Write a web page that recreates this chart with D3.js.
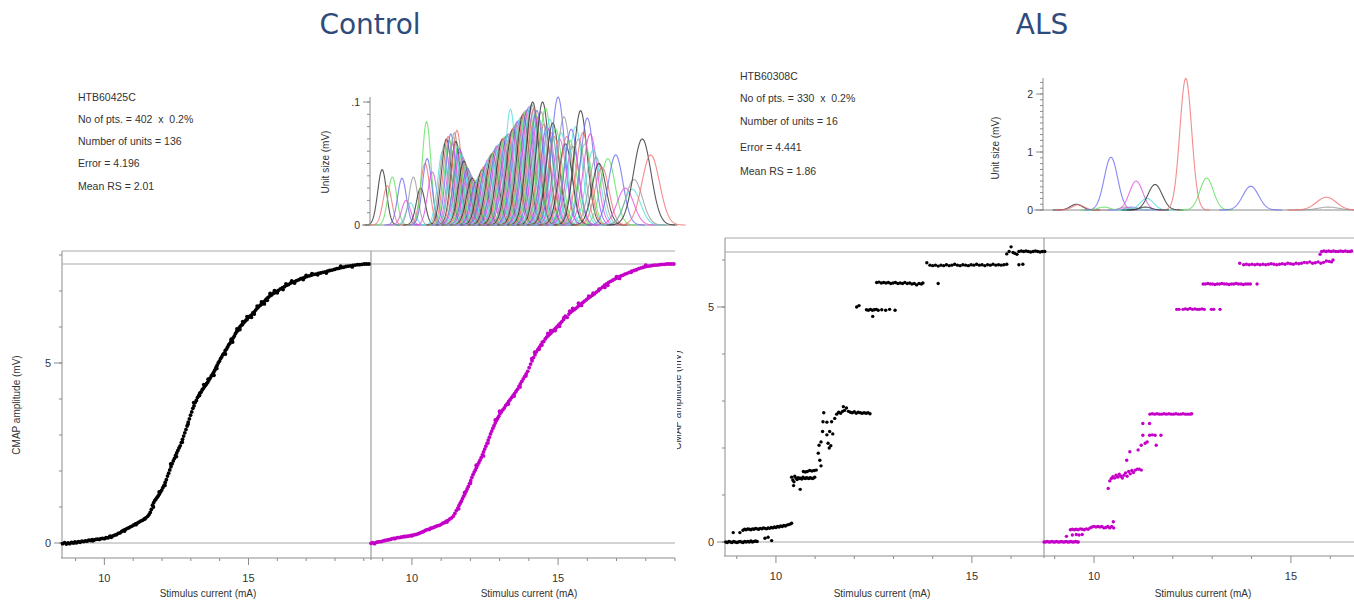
<!DOCTYPE html>
<html><head><meta charset="utf-8">
<script src="https://cdn.jsdelivr.net/npm/d3@7"></script>
<style>
body{margin:0;background:#fff}
svg{display:block}
text{font-family:"Liberation Sans",Arial,sans-serif;fill:#333}
</style>
</head><body><svg id="c" width="1354" height="606"></svg>
<script>
// ---------------- DATA ----------------
const titles = ["Control", "ALS"];
const ctrlInfo = ["HTB60425C", "No of pts. = 402  x  0.2%", "Number of units = 136", "Error = 4.196", "Mean RS = 2.01"];
const alsInfo = ["HTB60308C", "No of pts. = 330  x  0.2%", "Number of units = 16", "Error = 4.441", "Mean RS = 1.86"];
const xTickMajor = [10, 15];
const mainYTickMajor = [0, 5];
const ctrlUnitTicks = [0, 0.1];
const ctrlUnitTickLabels = ["0", ".1"];
const alsUnitTicks = [0, 1, 2];
const alsUnitTickLabels = ["0", "1", "2"];
const xLabel = "Stimulus current (mA)";
const yLabel = "CMAP amplitude (mV)";
const unitLabel = "Unit size (mV)";
const ctrlMax = 7.75;
const alsMax = 6.17;

// unit size curves: [threshold centre (mA), spread (mA), size (mV)]
const ctrlUnits = [
[8.98,0.15,0.045],[9.16,0.15,0.032],[9.33,0.15,0.039],[9.66,0.15,0.038],[9.80,0.15,0.020],[9.95,0.15,0.018],
[10.05,0.15,0.039],[10.30,0.15,0.030],[10.45,0.16,0.050],[10.50,0.15,0.084],[10.52,0.16,0.054],[10.70,0.16,0.043],
[11.05,0.17,0.060],[11.12,0.17,0.066],[11.18,0.17,0.070],[11.24,0.17,0.072],[11.28,0.17,0.069],[11.33,0.17,0.074],
[11.38,0.17,0.066],[11.42,0.17,0.071],[11.45,0.17,0.075],[11.50,0.17,0.068],[11.54,0.17,0.077],[11.58,0.17,0.064],
[11.62,0.19,0.062],[11.66,0.19,0.060],[11.70,0.19,0.057],[11.74,0.19,0.055],[11.78,0.19,0.052],[11.82,0.19,0.050],
[11.86,0.19,0.048],[11.90,0.19,0.046],[11.94,0.19,0.044],[11.98,0.19,0.042],[12.02,0.19,0.040],[12.06,0.19,0.038],
[12.10,0.19,0.037],[12.15,0.19,0.036],[12.20,0.19,0.035],[12.25,0.19,0.037],[12.30,0.19,0.040],[12.35,0.19,0.042],
[12.40,0.19,0.045],[12.45,0.19,0.047],[12.50,0.19,0.048],[12.55,0.21,0.050],[12.60,0.21,0.053],[12.65,0.21,0.055],
[12.70,0.21,0.057],[12.75,0.21,0.058],[12.80,0.21,0.060],[12.85,0.21,0.062],[12.90,0.21,0.064],[12.95,0.21,0.065],
[13.00,0.21,0.066],[13.05,0.21,0.068],[13.10,0.21,0.070],[13.15,0.21,0.071],[13.20,0.21,0.072],[13.25,0.21,0.073],
[13.30,0.21,0.074],[13.37,0.18,0.094],[13.40,0.22,0.076],[13.45,0.22,0.078],[13.50,0.22,0.080],[13.55,0.22,0.082],
[13.60,0.22,0.084],[13.65,0.22,0.085],[13.70,0.22,0.087],[13.75,0.22,0.088],[13.80,0.22,0.090],[13.85,0.22,0.092],
[13.90,0.22,0.093],[13.95,0.22,0.094],[14.00,0.22,0.096],[14.05,0.22,0.097],[14.10,0.22,0.098],[14.13,0.22,0.100],
[14.18,0.22,0.095],[14.22,0.22,0.090],[14.27,0.22,0.093],[14.32,0.22,0.088],[14.37,0.22,0.085],[14.42,0.22,0.092],
[14.47,0.22,0.100],[14.52,0.22,0.082],[14.57,0.22,0.095],[14.62,0.22,0.080],[14.67,0.22,0.078],[14.72,0.22,0.086],
[14.77,0.22,0.075],[14.82,0.22,0.083],[14.87,0.22,0.072],[14.92,0.22,0.078],[15.00,0.23,0.104],[15.05,0.23,0.070],
[15.10,0.23,0.075],[15.20,0.23,0.088],[15.25,0.23,0.066],[15.30,0.23,0.072],[15.40,0.23,0.069],[15.45,0.23,0.078],
[15.50,0.23,0.064],[15.60,0.23,0.080],[15.70,0.23,0.070],[15.77,0.23,0.093],[15.85,0.23,0.075],[15.92,0.23,0.066],
[16.00,0.23,0.087],[16.10,0.24,0.074],[16.20,0.24,0.061],[16.30,0.24,0.055],[16.40,0.24,0.050],[16.50,0.24,0.047],
[16.70,0.25,0.054],[16.97,0.25,0.057],[17.30,0.28,0.030],[17.54,0.28,0.029],[17.60,0.28,0.037],[17.88,0.30,0.070],
[18.17,0.30,0.057]
];
const alsUnits = [
[9.55,0.15,0.10],[9.60,0.15,0.09],[10.25,0.15,0.05],[10.43,0.17,0.91],[11.07,0.17,0.50],[11.34,0.17,0.20],
[10.80,0.15,0.05],[11.55,0.18,0.44],[12.33,0.15,2.27],[12.86,0.17,0.55],[13.98,0.20,0.41],[10.95,0.15,0.05],
[11.00,0.15,0.04],[15.95,0.25,0.05],[11.30,0.15,0.05],[15.90,0.25,0.22]
];

// stimulus-response points [stimulus (mA), CMAP (mV)]
const ctrlBlack = [
[8.55,-0.02],[8.62,0.01],[8.68,-0.03],[8.74,0.00],[8.80,-0.02],[8.86,0.02],[8.92,0.00],[8.98,0.03],[9.04,0.01],[9.10,0.04],
[9.16,0.02],[9.22,0.05],[9.28,0.04],[9.34,0.06],[9.40,0.05],[9.46,0.08],[9.52,0.07],[9.58,0.09],[9.64,0.08],[9.70,0.10],
[9.76,0.11],[9.82,0.10],[9.88,0.12],[9.94,0.13],[10.00,0.12],[10.06,0.15],[10.12,0.14],[10.18,0.17],[10.24,0.16],[10.30,0.20],
[10.36,0.22],[10.42,0.23],[10.48,0.27],[10.54,0.28],[10.60,0.32],[10.66,0.35],[10.72,0.37],[10.78,0.40],[10.84,0.42],[10.90,0.45],
[10.96,0.47],[11.02,0.50],[11.08,0.53],[11.14,0.55],[11.20,0.58],[11.26,0.61],[11.32,0.63],[11.38,0.66],[11.44,0.70],[11.50,0.74],
[11.55,0.79],[11.59,0.85],[11.63,0.93],[11.67,1.05],[11.71,1.12],[11.75,1.18],[11.79,1.22],[11.83,1.27],[11.87,1.31],[11.91,1.36],
[11.95,1.42],[11.99,1.47],[12.03,1.54],[12.07,1.60],[12.11,1.68],[12.15,1.76],[12.19,1.86],[12.23,1.94],[12.27,2.03],[12.31,2.12],
[12.35,2.20],[12.39,2.28],[12.43,2.35],[12.47,2.43],[12.51,2.50],[12.55,2.57],[12.59,2.64],[12.63,2.70],[12.67,2.79],[12.71,2.88],
[12.75,2.97],[12.79,3.06],[12.83,3.15],[12.87,3.25],[12.91,3.36],[12.95,3.45],[12.99,3.55],[13.03,3.64],[13.07,3.74],[13.11,3.81],
[13.15,3.90],[13.19,3.96],[13.23,4.04],[13.27,4.09],[13.31,4.16],[13.35,4.19],[13.39,4.25],[13.43,4.29],[13.47,4.34],[13.51,4.38],
[13.55,4.43],[13.59,4.47],[13.63,4.53],[13.67,4.58],[13.71,4.64],[13.75,4.68],[13.79,4.74],[13.83,4.80],[13.87,4.87],[13.91,4.93],
[13.95,5.00],[13.99,5.05],[14.03,5.12],[14.07,5.17],[14.11,5.23],[14.15,5.27],[14.19,5.34],[14.23,5.38],[14.27,5.44],[14.31,5.50],
[14.35,5.54],[14.39,5.60],[14.43,5.63],[14.47,5.70],[14.51,5.75],[14.55,5.82],[14.59,5.87],[14.63,5.91],[14.67,5.97],[14.71,6.01],
[14.75,6.05],[14.79,6.07],[14.83,6.12],[14.87,6.15],[14.91,6.19],[14.95,6.21],[15.00,6.27],[15.05,6.30],[15.10,6.33],[15.15,6.39],
[15.20,6.42],[15.25,6.47],[15.30,6.52],[15.35,6.56],[15.40,6.60],[15.45,6.63],[15.50,6.68],[15.55,6.71],[15.60,6.76],[15.65,6.80],
[15.70,6.83],[15.75,6.87],[15.80,6.89],[15.85,6.93],[15.90,6.95],[15.97,6.99],[16.04,7.02],[16.11,7.06],[16.18,7.09],[16.25,7.12],
[16.32,7.16],[16.39,7.18],[16.46,7.22],[16.53,7.24],[16.60,7.26],[16.67,7.29],[16.74,7.31],[16.81,7.34],[16.88,7.36],[16.95,7.38],
[17.02,7.40],[17.10,7.42],[17.18,7.44],[17.26,7.46],[17.34,7.47],[17.42,7.49],[17.50,7.50],[17.58,7.52],[17.66,7.53],[17.74,7.55],
[17.82,7.57],[17.90,7.58],[17.98,7.60],[18.06,7.62],[18.14,7.63],[18.22,7.65],[18.30,7.66],[18.38,7.68],[18.46,7.69],[18.54,7.70],
[18.62,7.71],[18.70,7.72],[18.78,7.73],[18.86,7.73],[18.94,7.74],[19.02,7.75],[19.10,7.75],[19.18,7.75],
[12.50,2.40],[12.90,3.30],[13.45,4.40],[13.80,4.66],[14.45,5.58],[14.60,5.95],[14.80,6.15],[15.10,6.27],[15.30,6.58],[15.55,6.64],
[15.75,6.93],[16.00,6.95],[16.30,7.20],[16.60,7.22],[17.00,7.43],[17.40,7.45],
[11.70,1.00],[11.90,1.42],[12.10,1.60],[12.30,2.20],[12.70,2.80],[13.10,3.90],[13.30,4.10],[13.60,4.55],[13.90,4.85],[14.20,5.25],
[14.40,5.66],[14.70,5.93],[14.95,6.29],[15.20,6.36],[15.45,6.70],[15.65,6.74],[15.90,7.01],[16.20,7.04],[16.50,7.28],[16.90,7.32],
[17.20,7.48],[17.70,7.50],[18.20,7.69],[18.60,7.67],[10.70,0.33],[11.10,0.51],[11.40,0.67],[10.20,0.19],[9.60,0.06],[9.00,0.01]
];
const ctrlMagenta = [
[8.60,-0.01],[8.66,0.01],[8.72,-0.02],[8.78,0.02],[8.84,0.03],[8.90,0.04],[8.96,0.04],[9.02,0.06],[9.08,0.07],[9.14,0.08],
[9.20,0.09],[9.26,0.10],[9.32,0.12],[9.38,0.13],[9.44,0.13],[9.50,0.15],[9.56,0.15],[9.62,0.16],[9.68,0.17],[9.74,0.18],
[9.80,0.18],[9.86,0.19],[9.92,0.20],[9.98,0.21],[10.04,0.22],[10.10,0.23],[10.16,0.24],[10.22,0.26],[10.28,0.28],[10.34,0.30],
[10.40,0.32],[10.46,0.35],[10.52,0.37],[10.58,0.38],[10.64,0.41],[10.70,0.42],[10.76,0.44],[10.82,0.46],[10.88,0.48],[10.94,0.49],
[11.00,0.52],[11.06,0.55],[11.12,0.57],[11.18,0.61],[11.24,0.63],[11.30,0.67],[11.36,0.70],[11.42,0.75],[11.47,0.82],[11.52,0.90],
[11.57,0.97],[11.61,1.04],[11.65,1.10],[11.69,1.16],[11.73,1.23],[11.77,1.30],[11.81,1.36],[11.85,1.43],[11.89,1.50],[11.93,1.57],
[11.97,1.65],[12.01,1.73],[12.05,1.82],[12.09,1.90],[12.13,1.97],[12.17,2.03],[12.21,2.10],[12.25,2.17],[12.29,2.23],[12.33,2.30],
[12.37,2.37],[12.41,2.45],[12.45,2.53],[12.49,2.61],[12.53,2.69],[12.57,2.77],[12.61,2.86],[12.65,2.94],[12.69,3.03],[12.73,3.11],
[12.77,3.19],[12.81,3.26],[12.85,3.33],[12.89,3.40],[12.93,3.46],[12.97,3.52],[13.01,3.59],[13.06,3.64],[13.11,3.70],[13.16,3.75],
[13.21,3.82],[13.26,3.87],[13.31,3.93],[13.36,3.98],[13.41,4.04],[13.46,4.09],[13.51,4.15],[13.56,4.21],[13.61,4.27],[13.66,4.35],
[13.71,4.42],[13.76,4.49],[13.81,4.56],[13.86,4.63],[13.91,4.70],[13.96,4.77],[14.01,4.87],[14.06,4.97],[14.11,5.06],[14.16,5.15],
[14.21,5.23],[14.26,5.31],[14.31,5.38],[14.36,5.44],[14.41,5.50],[14.46,5.58],[14.51,5.60],[14.56,5.67],[14.61,5.72],[14.66,5.76],
[14.71,5.80],[14.76,5.84],[14.81,5.88],[14.86,5.92],[14.91,5.96],[14.96,6.00],[15.01,6.05],[15.07,6.10],[15.13,6.15],[15.19,6.21],
[15.25,6.30],[15.31,6.27],[15.37,6.36],[15.43,6.41],[15.49,6.45],[15.55,6.48],[15.61,6.52],[15.67,6.56],[15.73,6.60],[15.79,6.64],
[15.85,6.68],[15.91,6.72],[15.97,6.76],[16.03,6.80],[16.10,6.84],[16.17,6.88],[16.24,6.92],[16.31,6.97],[16.38,7.01],[16.45,7.06],
[16.52,7.11],[16.59,7.16],[16.66,7.20],[16.73,7.24],[16.80,7.27],[16.87,7.30],[16.94,7.33],[17.01,7.36],[17.08,7.39],[17.15,7.42],
[17.22,7.44],[17.29,7.47],[17.36,7.49],[17.44,7.52],[17.52,7.55],[17.60,7.57],[17.68,7.59],[17.76,7.62],[17.84,7.64],[17.92,7.66],
[18.00,7.68],[18.08,7.69],[18.16,7.70],[18.24,7.71],[18.32,7.72],[18.40,7.72],[18.48,7.73],[18.56,7.74],[18.64,7.74],[18.72,7.75],
[18.80,7.75],[18.88,7.75],[18.96,7.75],
[12.45,2.42],[12.85,3.42],[13.30,3.86],[13.70,4.33],[14.20,5.30],[14.45,5.50],[14.75,5.90],[15.05,6.02],[15.40,6.44],[15.70,6.66],
[16.05,6.86],[16.40,7.05],[16.70,7.16],[17.10,7.35],
[11.60,0.95],[11.80,1.40],[12.00,1.66],[12.20,2.16],[12.60,2.78],[13.00,3.66],[13.50,4.08],[13.90,4.64],[14.10,5.12],[14.35,5.38],
[14.65,5.82],[14.90,5.90],[15.20,6.26],[15.50,6.52],[15.80,6.60],[16.20,6.94],[16.60,7.10],[17.00,7.40],[17.50,7.52],[18.00,7.72],
[10.60,0.38],[11.20,0.58],[10.00,0.20],[9.40,0.12]
];
const alsBlack = [
[8.72,0.00],[8.76,-0.01],[8.80,0.01],[8.84,0.00],[8.88,-0.01],[8.92,0.01],[8.96,0.00],[9.00,-0.01],[9.04,0.00],[9.08,0.01],
[9.12,0.00],[9.16,-0.01],[9.20,0.01],[9.24,0.00],[9.28,0.01],[9.32,0.00],[9.36,0.02],[9.40,0.00],[9.44,0.01],[9.48,0.02],[9.52,0.01],
[8.91,0.20],[9.08,0.20],[9.72,0.08],[9.89,0.03],[9.80,0.10],
[9.16,0.25],[9.20,0.27],[9.24,0.26],[9.28,0.28],[9.32,0.27],[9.36,0.26],[9.40,0.28],[9.44,0.27],[9.48,0.29],[9.52,0.28],
[9.56,0.27],[9.60,0.29],[9.64,0.28],[9.68,0.30],[9.72,0.29],[9.76,0.28],[9.80,0.30],[9.84,0.29],[9.88,0.31],[9.92,0.30],
[9.96,0.32],[10.00,0.31],[10.04,0.33],[10.08,0.32],[10.12,0.34],[10.16,0.33],[10.20,0.35],[10.24,0.34],[10.28,0.36],[10.32,0.37],
[10.36,0.38],[10.40,0.40],
[10.40,1.38],[10.43,1.32],[10.46,1.28],[10.48,1.40],[10.51,1.36],[10.54,1.33],[10.57,1.37],[10.60,1.35],[10.63,1.36],[10.66,1.34],
[10.69,1.38],[10.72,1.36],[10.75,1.35],[10.78,1.37],[10.81,1.36],[10.84,1.35],[10.87,1.37],[10.90,1.36],[10.93,1.35],[10.96,1.36],
[10.99,1.38],[10.45,1.20],[10.62,1.12],[10.70,1.50],[10.75,1.49],[10.80,1.50],[10.86,1.52],[10.92,1.51],[10.98,1.52],[11.03,1.53],
[11.08,1.89],[11.12,1.74],[11.15,1.62],[11.10,2.06],[11.15,2.13],[11.19,2.35],[11.20,2.56],[11.22,2.75],[11.30,2.28],[11.33,2.10],
[11.37,2.35],[11.45,2.30],[11.42,2.56],[11.50,2.63],[11.36,2.00],[11.40,2.05],[11.30,2.55],
[11.55,2.72],[11.60,2.76],[11.65,2.74],[11.70,2.78],[11.75,2.80],[11.80,2.85],[11.85,2.78],[11.90,2.76],[11.95,2.75],[12.00,2.77],
[12.05,2.74],[12.10,2.76],[12.15,2.75],[12.20,2.74],[12.25,2.75],[12.30,2.74],[12.35,2.75],[12.40,2.73],[11.72,2.88],
[12.06,5.00],[12.12,5.03],[12.31,4.94],[12.36,4.93],[12.41,4.95],[12.46,4.93],[12.47,4.80],[12.51,4.94],[12.56,4.95],[12.61,4.93],
[12.70,4.94],[12.80,4.93],[12.90,4.95],[13.04,4.93],
[12.57,5.52],[12.63,5.53],[12.69,5.51],[12.75,5.52],[12.81,5.51],[12.87,5.52],[12.93,5.50],[12.99,5.51],[13.05,5.52],[13.11,5.50],
[13.17,5.51],[13.23,5.50],[13.29,5.52],[13.35,5.50],[13.41,5.51],[13.47,5.49],[13.53,5.50],[13.59,5.47],[13.65,5.50],[13.71,5.49],
[13.75,5.51],[14.14,5.50],
[13.85,5.94],[13.93,5.89],[14.00,5.88],[14.07,5.89],[14.14,5.87],[14.21,5.89],[14.28,5.88],[14.35,5.90],[14.42,5.88],[14.49,5.89],
[14.56,5.91],[14.63,5.89],[14.70,5.88],[14.77,5.90],[14.84,5.89],[14.91,5.88],[14.98,5.90],[15.05,5.89],[15.12,5.91],[15.19,5.89],
[15.26,5.90],[15.33,5.88],[15.40,5.90],[15.47,5.89],[15.54,5.91],[15.61,5.89],[15.68,5.90],[15.75,5.89],[15.82,5.90],[15.89,5.91],
[16.20,5.90],[16.30,5.91],
[15.89,6.13],[15.95,6.18],[16.00,6.28],[16.05,6.16],[16.10,6.14],[16.15,6.12],[16.20,6.18],[16.26,6.19],[16.32,6.18],[16.38,6.19],
[16.44,6.18],[16.50,6.17],[16.56,6.18],[16.62,6.19],[16.68,6.18],[16.74,6.17],[16.80,6.18],[16.86,6.18]
];
const alsMagenta = [
[8.73,0.00],[8.77,0.00],[8.81,0.01],[8.85,0.00],[8.89,0.00],[8.93,0.01],[8.97,0.00],[9.01,0.00],[9.05,0.01],[9.09,0.00],
[9.13,0.00],[9.17,0.01],[9.21,0.00],[9.25,0.00],[9.29,0.01],[9.33,0.00],[9.37,0.00],[9.41,0.01],[9.45,0.00],[9.49,0.00],
[9.53,0.01],[9.57,0.00],[9.60,0.00],
[9.30,0.12],[9.45,0.15],[9.55,0.16],[9.62,0.15],[9.70,0.16],
[9.40,0.26],[9.45,0.27],[9.50,0.26],[9.55,0.27],[9.60,0.26],[9.65,0.28],[9.70,0.27],[9.75,0.26],[9.80,0.28],[9.85,0.27],
[9.90,0.30],[9.95,0.32],[10.00,0.33],[10.05,0.32],[10.10,0.33],[10.15,0.32],[10.20,0.33],[10.25,0.30],[10.30,0.31],[10.35,0.33],
[10.40,0.30],[10.45,0.33],[10.49,0.43],[10.50,0.30],
[10.36,1.14],[10.40,1.30],[10.44,1.35],[10.48,1.39],[10.52,1.36],[10.56,1.42],[10.60,1.38],[10.64,1.44],[10.68,1.40],[10.72,1.36],
[10.76,1.42],[10.80,1.47],[10.84,1.40],[10.88,1.50],[10.92,1.45],[10.96,1.52],[11.00,1.48],[11.05,1.53],[11.10,1.55],[11.15,1.55],
[11.20,1.53],
[10.83,1.74],[10.91,1.92],[11.12,1.96],[11.20,2.06],[11.24,2.27],[11.41,2.27],[11.48,2.28],[11.55,2.27],[11.70,2.27],[11.58,2.06],
[11.24,2.52],[11.41,2.52],[11.30,2.10],[11.35,2.13],
[11.42,2.72],[11.48,2.73],[11.54,2.72],[11.60,2.73],[11.66,2.72],[11.72,2.72],[11.78,2.73],[11.84,2.72],[11.90,2.73],[11.96,2.72],
[12.02,2.72],[12.08,2.73],[12.14,2.72],[12.20,2.72],[12.26,2.73],[12.32,2.72],[12.38,2.72],[12.44,2.72],[12.48,2.73],
[12.10,4.95],[12.16,4.95],[12.26,4.95],[12.32,4.96],[12.38,4.95],[12.44,4.97],[12.50,4.95],[12.56,4.96],[12.62,4.95],[12.68,4.95],
[12.74,4.96],[12.80,4.95],[12.98,4.95],[13.04,4.95],[13.20,4.95],
[12.77,5.49],[12.83,5.49],[12.89,5.50],[12.95,5.49],[13.01,5.49],[13.07,5.48],[13.13,5.49],[13.19,5.49],[13.25,5.50],[13.31,5.49],
[13.37,5.49],[13.43,5.48],[13.49,5.49],[13.55,5.49],[13.61,5.50],[13.67,5.49],[13.73,5.49],[13.79,5.48],[13.85,5.49],[13.91,5.49],
[13.97,5.49],[14.14,5.49],
[13.70,5.93],[13.80,5.90],[13.87,5.91],[13.94,5.90],[14.01,5.91],[14.08,5.90],[14.15,5.91],[14.22,5.90],[14.29,5.91],[14.36,5.90],
[14.43,5.91],[14.50,5.92],[14.57,5.91],[14.64,5.90],[14.71,5.91],[14.78,5.92],[14.85,5.91],[14.92,5.93],[14.99,5.92],[15.06,5.91],
[15.13,5.93],[15.20,5.92],[15.27,5.93],[15.34,5.95],[15.41,5.94],[15.48,5.96],[15.55,5.93],[15.62,5.94],[15.69,5.96],[15.76,5.93],
[15.83,5.95],[15.90,5.98],[15.97,5.97],[16.03,5.96],[16.07,6.00],
[15.74,6.12],[15.78,6.18],[15.84,6.19],[15.90,6.18],[15.96,6.19],[16.02,6.18],[16.08,6.19],[16.14,6.18],[16.20,6.18],[16.26,6.19],
[16.32,6.18],[16.38,6.19],[16.44,6.18],[16.50,6.18],[16.54,6.19]
];

// ---------------- DRAWING ----------------
const svg = d3.select("#c");
const unitPalette = ["#303030", "#f07070", "#5ee05e", "#6a6af0", "#e050e0", "#4fe0e0", "#9a9a9a"];
const frameColor = "#a8a8a8";
const axisColor = "#8c8c8c";
const magenta = "#c400c8";

function gauss(u, x) { return u[2] * Math.exp(-0.5 * Math.pow((x - u[0]) / u[1], 2)); }

function drawPanel(cfg) {
  const g = svg.append("g");
  g.append("text").attr("x", cfg.titleX).attr("y", 34).attr("text-anchor", "middle")
    .style("font-family", "'DejaVu Sans',Verdana,sans-serif").style("font-size", "28px")
    .style("fill", "#2f4b7c").text(cfg.title);
  g.selectAll("text.info").data(cfg.info).enter().append("text").attr("class", "info")
    .attr("x", cfg.infoX).attr("y", (d, i) => cfg.infoY[i] + 4)
    .style("font-size", "10.5px").style("white-space", "pre").attr("xml:space", "preserve").text(d => d);

  // --- unit-size plot ---
  const ux = d3.scaleLinear().domain(cfg.magDomain).range(cfg.magRange);
  const uy = d3.scaleLinear().domain([0, cfg.unitTicks[cfg.unitTicks.length - 1]]).range(cfg.unitYRange);
  g.append("line").attr("x1", cfg.unitBaseStart).attr("x2", cfg.unitBaseEnd).attr("y1", uy(0)).attr("y2", uy(0))
    .attr("stroke", axisColor);
  const ug = g.append("g");
  const line = d3.line().x(d => ux(d[0])).y(d => uy(d[1]));
  cfg.units.forEach((u, i) => {
    const lo = u[0] - 4 * u[1], hi = u[0] + 4 * u[1];
    const pts = d3.range(lo, hi + 1e-9, (hi - lo) / 80).map(x => [x, gauss(u, x)]);
    ug.append("path").attr("d", line(pts)).attr("fill", "none")
      .attr("stroke", unitPalette[i % unitPalette.length]).attr("stroke-width", 1.1).attr("opacity", 0.8);
  });
  const uAxisX = cfg.magRange[0] - 1;
  g.append("line").attr("x1", uAxisX).attr("x2", uAxisX).attr("y1", uy(0) + 1).attr("y2", cfg.unitAxisTop).attr("stroke", axisColor);
  const uMinor = d3.range(0, cfg.unitMinorMax + 1e-9, cfg.unitMinorStep);
  g.selectAll(null).data(uMinor).enter().append("line")
    .attr("x1", uAxisX - 3).attr("x2", uAxisX).attr("y1", d => uy(d)).attr("y2", d => uy(d)).attr("stroke", axisColor);
  g.selectAll(null).data(cfg.unitTicks).enter().append("line")
    .attr("x1", uAxisX - 7).attr("x2", uAxisX).attr("y1", d => uy(d)).attr("y2", d => uy(d)).attr("stroke", axisColor);
  g.selectAll(null).data(cfg.unitTicks).enter().append("text")
    .attr("x", uAxisX - 10).attr("y", d => uy(d) + 4).attr("text-anchor", "end").style("font-size", "10.5px")
    .text((d, i) => cfg.unitTickLabels[i]);
  g.append("text").attr("transform", `translate(${cfg.unitLabelX},${cfg.unitLabelY}) rotate(-90)`)
    .attr("text-anchor", "middle").style("font-size", "10px").text(unitLabel);

  // --- main plot ---
  const y = d3.scaleLinear().domain([0, 5]).range(cfg.yRange);
  const xb = d3.scaleLinear().domain(cfg.blackDomain).range(cfg.blackRange);
  const xm = ux;
  const L = cfg.blackRange[0], D = cfg.magRange[0], R = cfg.magRange[1];
  g.append("line").attr("x1", L).attr("x2", R).attr("y1", cfg.frameTop).attr("y2", cfg.frameTop).attr("stroke", frameColor);
  g.append("line").attr("x1", L).attr("x2", L).attr("y1", cfg.frameTop).attr("y2", cfg.frameBottom).attr("stroke", axisColor);
  g.append("line").attr("x1", L - 1).attr("x2", R).attr("y1", cfg.frameBottom).attr("y2", cfg.frameBottom).attr("stroke", axisColor);
  g.append("line").attr("x1", D).attr("x2", D).attr("y1", cfg.frameTop).attr("y2", cfg.frameBottom + 2).attr("stroke", axisColor);
  g.append("line").attr("x1", L - 3).attr("x2", R).attr("y1", y(0)).attr("y2", y(0)).attr("stroke", frameColor);
  g.append("line").attr("x1", L).attr("x2", R).attr("y1", y(cfg.maxVal)).attr("y2", y(cfg.maxVal)).attr("stroke", frameColor);
  const yMinor = d3.range(0, Math.floor(y.invert(cfg.frameTop)) + 1);
  g.selectAll(null).data(yMinor).enter().append("line")
    .attr("x1", L - 3).attr("x2", L).attr("y1", d => y(d)).attr("y2", d => y(d)).attr("stroke", axisColor);
  g.selectAll(null).data(mainYTickMajor).enter().append("line")
    .attr("x1", L - 8).attr("x2", L).attr("y1", d => y(d)).attr("y2", d => y(d)).attr("stroke", axisColor);
  g.selectAll(null).data(mainYTickMajor).enter().append("text")
    .attr("x", L - 11).attr("y", d => y(d) + 4).attr("text-anchor", "end").style("font-size", "11px").text(d => d);
  const yl = g.append("g");
  if (cfg.yLabelClip) {
    const cid = "clip" + cfg.title;
    svg.append("defs").append("clipPath").attr("id", cid).append("rect")
      .attr("x", cfg.yLabelClip).attr("y", 0).attr("width", 60).attr("height", 606);
    yl.attr("clip-path", `url(#${cid})`);
  }
  yl.append("text").attr("transform", `translate(${cfg.yLabelX},${cfg.yLabelY}) rotate(-90)`)
    .attr("text-anchor", "middle").style("font-size", "10px").text(yLabel);
  [[xb, cfg.xLabelX[0]], [xm, cfg.xLabelX[1]]].forEach(([sc, lx]) => {
    const dom = sc.domain();
    const ints = d3.range(Math.ceil(dom[0]), Math.floor(dom[1]) + 1).filter(v => sc(v) <= 1354);
    g.selectAll(null).data(ints).enter().append("line")
      .attr("x1", d => sc(d)).attr("x2", d => sc(d)).attr("y1", cfg.frameBottom)
      .attr("y2", d => cfg.frameBottom + (xTickMajor.includes(d) ? 7 : 3)).attr("stroke", axisColor);
    g.selectAll(null).data(xTickMajor).enter().append("text")
      .attr("x", d => sc(d)).attr("y", cfg.frameBottom + 24).attr("text-anchor", "middle")
      .style("font-size", "11px").text(d => d);
    g.append("text").attr("x", lx).attr("y", 597).attr("text-anchor", "middle").style("font-size", "10px").text(xLabel);
  });
  g.selectAll(null).data(cfg.black).enter().append("circle")
    .attr("cx", d => xb(d[0])).attr("cy", d => y(d[1])).attr("r", cfg.r).attr("fill", "#000");
  g.selectAll(null).data(cfg.mag).enter().append("circle")
    .attr("cx", d => xm(d[0])).attr("cy", d => y(d[1])).attr("r", cfg.r).attr("fill", magenta);
}

drawPanel({
  title: titles[0], titleX: 370, info: ctrlInfo, infoX: 78, infoY: [97, 119, 141, 163, 186],
  units: ctrlUnits, unitTicks: ctrlUnitTicks, unitTickLabels: ctrlUnitTickLabels,
  unitYRange: [225, 102], unitAxisTop: 97, unitMinorStep: 0.01, unitMinorMax: 0.1,
  unitBaseStart: 362, unitBaseEnd: 675, unitLabelX: 329, unitLabelY: 162,
  magDomain: [8.6, 19.0], magRange: [371, 675],
  blackDomain: [8.53, 19.25], blackRange: [62, 371],
  yRange: [543, 363], frameTop: 251, frameBottom: 558, maxVal: ctrlMax,
  yLabelX: 20, yLabelY: 405, yLabelClip: null, xLabelX: [208, 529],
  black: ctrlBlack, mag: ctrlMagenta, r: 1.9
});
drawPanel({
  title: titles[1], titleX: 1042, info: alsInfo, infoX: 740, infoY: [76, 98, 121, 147, 171],
  units: alsUnits, unitTicks: alsUnitTicks, unitTickLabels: alsUnitTickLabels,
  unitYRange: [210, 94], unitAxisTop: 78, unitMinorStep: 0.1, unitMinorMax: 2.2,
  unitBaseStart: 1034, unitBaseEnd: 1354, unitLabelX: 999, unitLabelY: 148,
  magDomain: [8.73, 16.83], magRange: [1044, 1363],
  blackDomain: [8.7, 16.84], blackRange: [725, 1044],
  yRange: [542, 307], frameTop: 238, frameBottom: 556, maxVal: alsMax,
  yLabelX: 681, yLabelY: 400, yLabelClip: 677, xLabelX: [882, 1203],
  black: alsBlack, mag: alsMagenta, r: 1.7
});
</script>
</body></html>
